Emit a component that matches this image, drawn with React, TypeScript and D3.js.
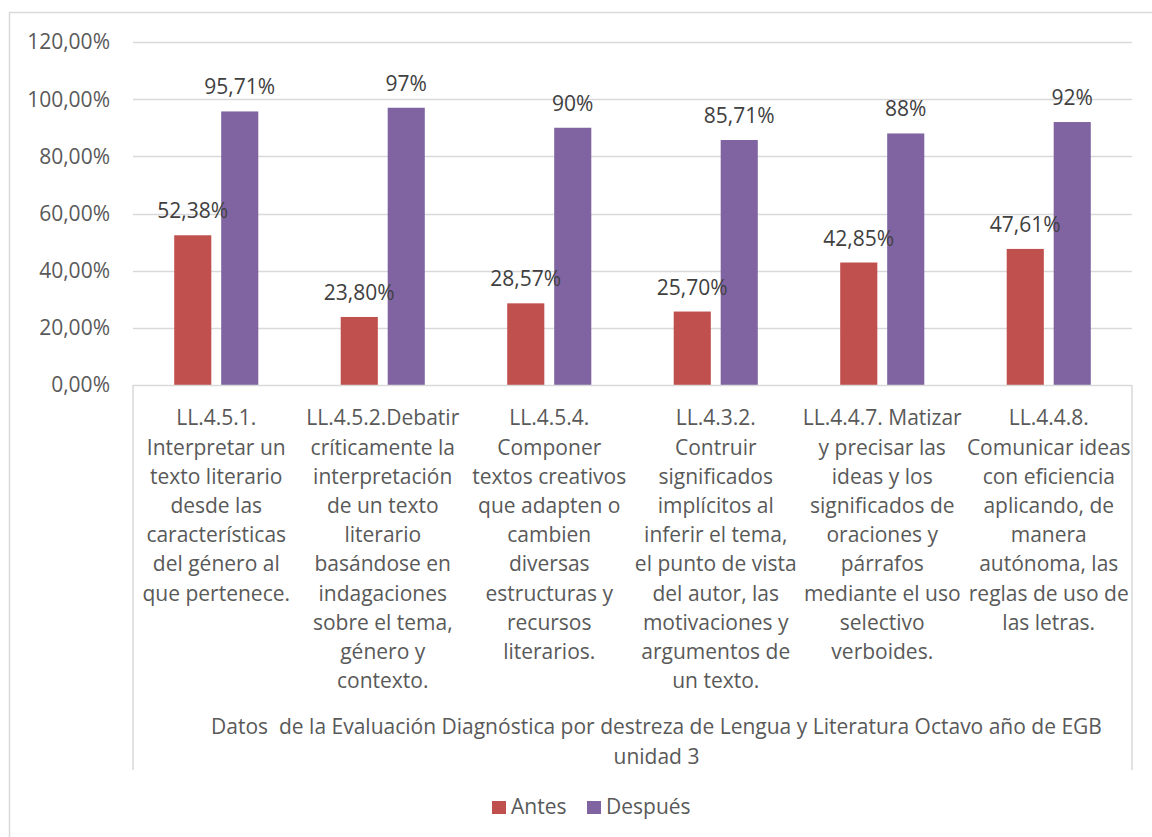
import React from "react";
import * as d3 from "d3";

const categories: string[][] = [
  ["LL.4.5.1.", "Interpretar un", "texto literario", "desde las", "características", "del género al", "que pertenece."],
  ["LL.4.5.2.Debatir", "críticamente la", "interpretación", "de un texto", "literario", "basándose en", "indagaciones", "sobre el tema,", "género y", "contexto."],
  ["LL.4.5.4.", "Componer", "textos creativos", "que adapten o", "cambien", "diversas", "estructuras y", "recursos", "literarios."],
  ["LL.4.3.2.", "Contruir", "significados", "implícitos al", "inferir el tema,", "el punto de vista", "del autor, las", "motivaciones y", "argumentos de", "un texto."],
  ["LL.4.4.7. Matizar", "y precisar las", "ideas y los", "significados de", "oraciones y", "párrafos", "mediante el uso", "selectivo", "verboides."],
  ["LL.4.4.8.", "Comunicar ideas", "con eficiencia", "aplicando, de", "manera", "autónoma, las", "reglas de uso de", "las letras."],
];
const antes = [0.5238, 0.238, 0.2857, 0.257, 0.4285, 0.4761];
const despues = [0.9571, 0.97, 0.9, 0.8571, 0.88, 0.92];
const antesLabels = ["52,38%", "23,80%", "28,57%", "25,70%", "42,85%", "47,61%"];
const despuesLabels = ["95,71%", "97%", "90%", "85,71%", "88%", "92%"];
const yTicks = [0, 0.2, 0.4, 0.6, 0.8, 1.0, 1.2];
const seriesNames = ["Antes", "Después"];
const seriesColors = ["#c0504d", "#8064a2"];
const titleLines = ["Datos  de la Evaluación Diagnóstica por destreza de Lengua y Literatura Octavo año de EGB", "unidad 3"];

const W = 1152, H = 837;
const left = 133, right = 1132, top = 42, bottom = 385;
const FONT = "'Open Sans', sans-serif";
const FS = 21;

export default function App() {
  const y = d3.scaleLinear().domain([0, 1.2]).range([bottom, top]);
  const x0 = d3.scaleBand<number>().domain(d3.range(categories.length)).range([left, right]).paddingInner(0.495).paddingOuter(0.2475);
  const x1 = d3.scaleBand<number>().domain([0, 1]).range([0, x0.bandwidth()]).paddingInner(0.21);
  const series = [antes, despues];
  const labels = [antesLabels, despuesLabels];
  const fmt = (v: number) => d3.format(".2f")(v * 100).replace(".", ",") + "%";
  return (
    <svg width={W} height={H} style={{ position: "absolute", left: 0, top: 0, background: "#fff" }} fontFamily={FONT}>
      <rect x={9.5} y={12.5} width={W + 10} height={H + 10} fill="#fff" stroke="#d9d9d9" strokeWidth={1.5} />
      {yTicks.map((t) => (
        <g key={t}>
          {t > 0 && <line x1={left} x2={right} y1={Math.round(y(t)) + 0.5} y2={Math.round(y(t)) + 0.5} stroke="#d9d9d9" strokeWidth={1.5} />}
          <text x={110} y={y(t)} dy="0.35em" textAnchor="end" fontSize={FS} fill="#595959">{fmt(t)}</text>
        </g>
      ))}
      {series.map((s, si) =>
        s.map((v, i) => (
          <rect key={si + "-" + i} x={x0(i)! + x1(si)!} y={y(v)} width={x1.bandwidth()} height={bottom - y(v)} fill={seriesColors[si]} />
        ))
      )}
      {series.map((s, si) =>
        s.map((v, i) => (
          <text key={"l" + si + "-" + i} x={x0(i)! + x1(si)! + x1.bandwidth() / 2} y={y(v) - 17} textAnchor="middle" fontSize={FS} fill="#404040">{labels[si][i]}</text>
        ))
      )}
      <line x1={left} x2={right} y1={bottom + 0.5} y2={bottom + 0.5} stroke="#d9d9d9" strokeWidth={1.5} />
      <line x1={left} x2={left} y1={bottom} y2={770} stroke="#d9d9d9" strokeWidth={1.5} />
      <line x1={right} x2={right} y1={bottom} y2={770} stroke="#d9d9d9" strokeWidth={1.5} />
      {categories.map((lines, i) => (
        <text key={"c" + i} textAnchor="middle" fontSize={FS} fill="#595959">
          {lines.map((ln, j) => (
            <tspan key={j} x={x0(i)! + x0.bandwidth() / 2} y={418 + j * 29.2} dy="0.35em">{ln}</tspan>
          ))}
        </text>
      ))}
      {titleLines.map((t, j) => (
        <text key={"t" + j} x={(left + right) / 2 + 24} y={727 + j * 30} dy="0.35em" textAnchor="middle" fontSize={FS} fill="#595959" style={{ whiteSpace: "pre" }}>{t}</text>
      ))}
      {seriesNames.map((n, k) => {
        const lx = [492, 587][k];
        return (
          <g key={n}>
            <rect x={lx} y={801} width={14} height={13} fill={seriesColors[k]} />
            <text x={lx + 19} y={807} dy="0.35em" fontSize={FS} fill="#595959">{n}</text>
          </g>
        );
      })}
    </svg>
  );
}
